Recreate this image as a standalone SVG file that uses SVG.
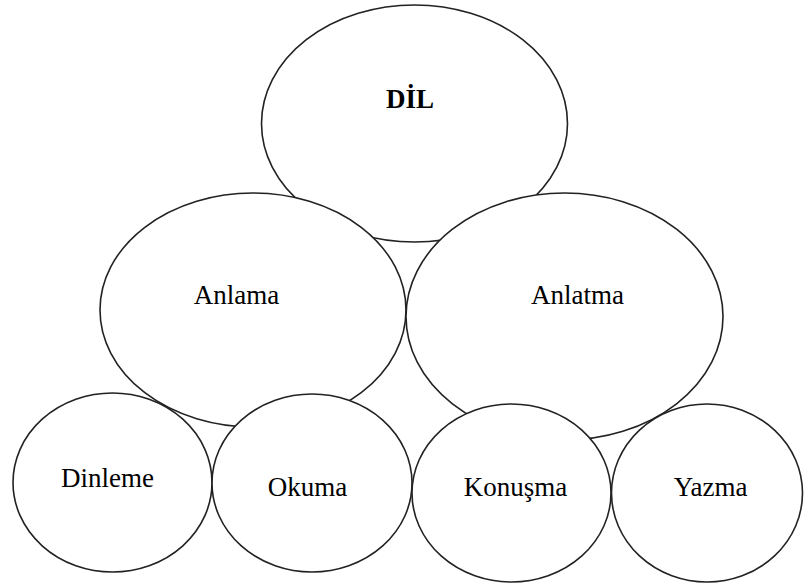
<svg xmlns="http://www.w3.org/2000/svg" width="804" height="587" viewBox="0 0 804 587">
<style>
.n{fill:#fff;stroke:#222;stroke-width:1.6}
text{font-family:'Liberation Serif','Times New Roman','DejaVu Serif',serif;font-size:27px;fill:#000;text-anchor:middle}
.b{font-weight:bold}
</style>
<rect width="804" height="587" fill="#fff"/>
<g id="connectors"></g>
<g id="dil"><ellipse class="n" cx="414.5" cy="123.5" rx="153" ry="118.5"/><text class="b" x="410" y="108" font-family="Liberation Serif, serif">DİL</text></g>
<g id="anlama"><ellipse class="n" cx="253" cy="310" rx="153" ry="117"/><text x="236.5" y="304" font-family="Liberation Serif, serif">Anlama</text></g>
<g id="anlatma"><ellipse class="n" cx="564.5" cy="316.5" rx="158.5" ry="123.5"/><text x="577.5" y="304" font-family="Liberation Serif, serif">Anlatma</text></g>
<g id="dinleme"><ellipse class="n" cx="112.5" cy="482.5" rx="99.5" ry="89.5"/><text x="107.5" y="487" font-family="Liberation Serif, serif">Dinleme</text></g>
<g id="okuma"><ellipse class="n" cx="312" cy="483" rx="100" ry="89"/><text x="307.5" y="496" font-family="Liberation Serif, serif">Okuma</text></g>
<g id="konusma"><ellipse class="n" cx="511.5" cy="493" rx="99.5" ry="89"/><text x="515.5" y="496" font-family="Liberation Serif, serif">Konuşma</text></g>
<g id="yazma"><ellipse class="n" cx="707" cy="493" rx="95.5" ry="89"/><text x="710.5" y="496" font-family="Liberation Serif, serif">Yazma</text></g>
</svg>
